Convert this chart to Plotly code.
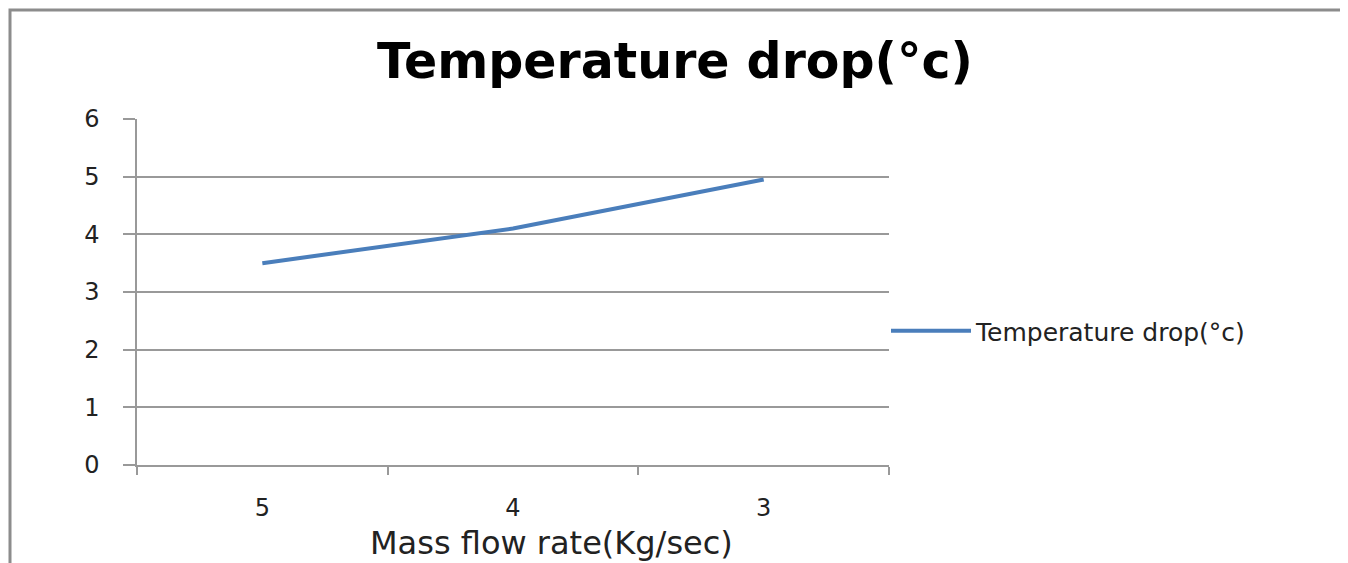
import plotly.graph_objects as go

categories = ["5", "4", "3"]
temperature_drop = [3.5, 4.1, 4.95]
series_name = "Temperature drop(°c)"
y_ticks = [0, 1, 2, 3, 4, 5, 6]

# page body has an 8px margin; work in screen pixels and shift
OFF = 8
W, H = 1348 - OFF, 563 - OFF
PL, PR, PT, PB = 137, 889, 119, 465  # plot area in screen pixels
L, R, T, B = PL - OFF, W - (PR - OFF), PT - OFF, H - (PB - OFF)
pw, ph = W - L - R, H - T - B

def px_x(px):
    return (px - OFF - L) / pw

def px_y(py):
    return (H - B - (py - OFF)) / ph

font = "DejaVu Sans"
fig = go.Figure()
fig.add_trace(go.Scatter(
    x=categories, y=temperature_drop, mode="lines", name=series_name,
    line=dict(color="#4A7EBB", width=4),
))

fig.update_layout(
    width=W, height=H,
    margin=dict(l=L, r=R, t=T, b=B),
    paper_bgcolor="white", plot_bgcolor="white",
    font=dict(family=font, color="#222222"),
    title=dict(text="<b>Temperature drop(°c)</b>", x=px_x(675), xref="paper", xanchor="center",
               y=1 - (61 - OFF) / H, yanchor="middle",
               font=dict(size=49, family=font, color="#000000")),
    showlegend=True,
    legend=dict(x=px_x(886), y=px_y(331), xanchor="left", yanchor="middle",
                font=dict(size=25, family=font, color="#222222"),
                itemwidth=80, bgcolor="rgba(0,0,0,0)"),
    xaxis=dict(type="category", range=[-0.5, 2.5], tickson="boundaries",
               showgrid=False, showline=True, linecolor="#999999", linewidth=1.5,
               ticks="outside", ticklen=8, tickcolor="#999999", tickwidth=1.5,
               tickfont=dict(size=24, family=font, color="#222222"),
               ticklabelstandoff=20, zeroline=False),
    yaxis=dict(range=[0, 6], tickvals=y_ticks, showgrid=True, gridcolor="#999999", gridwidth=1.5,
               showline=True, linecolor="#999999", linewidth=1.5,
               ticks="outside", ticklen=12, tickcolor="#999999", tickwidth=1.5,
               tickfont=dict(size=24, family=font, color="#222222"),
               ticklabelstandoff=19, zeroline=False),
    shapes=[dict(type="rect", xref="paper", yref="paper",
                 x0=px_x(OFF + 2), x1=px_x(1343), y0=px_y(OFF + 2), y1=px_y(600),
                 line=dict(color="#8c8c8c", width=3), fillcolor="rgba(0,0,0,0)", layer="below")],
    annotations=[dict(text="Mass flow rate(Kg/sec)", xref="paper", yref="paper",
                      x=px_x(551), y=px_y(543), xanchor="center", yanchor="middle",
                      showarrow=False, font=dict(size=32, family=font, color="#222222"))],
)

fig.write_html("out.html")
